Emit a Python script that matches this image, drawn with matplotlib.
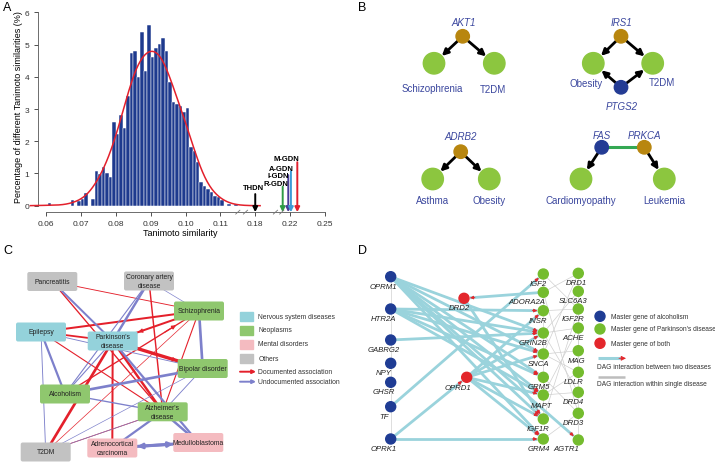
import numpy as np
import matplotlib.pyplot as plt
from matplotlib.patches import Circle, FancyBboxPatch, Rectangle

plt.rcParams['font.family'] = ['Liberation Sans', 'DejaVu Sans']

# ---------------- A: Tanimoto similarity histogram ----------------
main_start = 0.073
main_pct = [0.2, 1.09, 0.98, 1.19, 1.01, 0.9, 2.59, 2.23, 2.8, 2.41, 3.40,
            4.73, 4.81, 4.0, 5.40, 4.19, 5.61, 4.61, 4.89, 5.02, 5.2, 4.81,
            3.83, 3.21, 3.17, 3.09, 2.9, 3.02, 1.81, 1.71, 1.35, 0.73, 0.62,
            0.52, 0.42, 0.29, 0.27, 0.18]
stray_sim = [0.0605, 0.067, 0.069, 0.070, 0.071, 0.112, 0.114]
stray_pct = [0.08, 0.18, 0.15, 0.22, 0.38, 0.05, 0.05]
bin_w = 0.001

net_names = ['THDN', 'R-GDN', 'I-GDN', 'A-GDN', 'M-GDN']
net_sim = [0.18, 0.2115, 0.2179, 0.2207, 0.2262]
net_top = [0.36, 0.59, 0.95, 1.07, 1.35]
net_colors = ['black', '#2E9B45', '#4A3C97', '#3C9BD6', '#E01F2D']
xtick_sim = [0.06, 0.07, 0.08, 0.09, 0.10, 0.11, 0.18, 0.22, 0.25]

# broken axis: similarity -> axis position
break_sim = [0.115, 0.18, 0.22, 0.25]
break_pos = [0.115, 0.12, 0.13, 0.14]


def to_pos(s):
    s = np.asarray(s, dtype=float)
    return np.where(s <= 0.115, s, np.interp(s, break_sim, break_pos))


# ---------------- B: small gene-disease graphs ----------------
b_genes = ['AKT1', 'IRS1', 'PTGS2', 'ADRB2', 'FAS', 'PRKCA']
b_gene_kind = ['gold', 'gold', 'blue', 'gold', 'blue', 'gold']
b_diseases = ['Schizophrenia', 'T2DM', 'Obesity', 'T2DM', 'Asthma', 'Obesity',
              'Cardiomyopathy', 'Leukemia']
b_arrows = [('AKT1', 0), ('AKT1', 1), ('IRS1', 2), ('IRS1', 3), ('PTGS2', 2),
            ('PTGS2', 3), ('ADRB2', 4), ('ADRB2', 5), ('FAS', 6), ('PRKCA', 7)]
b_links = [('FAS', 'PRKCA')]

# ---------------- C: disease network ----------------
c_names = ['Pancreatitis', 'Coronary artery\ndisease', 'Schizophrenia', 'Epilepsy',
           "Parkinson's\ndisease", 'Bipolar disorder', 'Alcoholism',
           "Alzheimer's\ndisease", 'T2DM', 'Adrenocortical\ncarcinoma', 'Medulloblastoma']
c_group = ['Others', 'Others', 'Neoplasms', 'Nervous system diseases',
           'Nervous system diseases', 'Neoplasms', 'Neoplasms', 'Neoplasms',
           'Others', 'Mental disorders', 'Mental disorders']
c_groups = ['Nervous system diseases', 'Neoplasms', 'Mental disorders', 'Others']
# (from, to, documented?, weight)
c_edges = [
    (0, 2, 1, 0.8), (0, 7, 1, 1.2), (1, 7, 1, 1.3), (2, 3, 1, 1.8), (2, 4, 1, 1.8),
    (2, 6, 1, 1.2), (2, 8, 1, 0.6), (2, 7, 1, 1.0), (3, 4, 1, 1.6), (4, 5, 1, 3.0),
    (4, 7, 1, 2.2), (4, 9, 1, 1.8), (4, 8, 1, 2.4), (7, 8, 1, 0.7), (3, 7, 1, 1.0),
    (1, 2, 0, 0.6), (1, 4, 0, 2.2), (1, 6, 0, 1.0), (0, 4, 0, 1.8), (3, 6, 0, 2.0),
    (3, 8, 0, 0.8), (3, 5, 0, 0.8), (4, 6, 0, 1.0), (4, 10, 0, 2.0), (6, 5, 0, 2.4),
    (6, 7, 0, 1.2), (2, 5, 0, 2.4), (5, 7, 0, 0.8), (5, 8, 0, 0.6), (7, 9, 0, 2.0),
    (7, 10, 0, 2.2), (9, 10, 0, 2.8), (7, 8, 0, 0.6),
]

# ---------------- D: master gene DAG ----------------
d_alcohol = ['OPRM1', 'HTR2A', 'GABRG2', 'NPY', 'GHSR', 'TF', 'OPRK1']
d_both = ['DRD2', 'OPRD1']
d_pd_mid = ['IGF2', 'ADORA2A', 'INSR', 'GRIN2B', 'SNCA', 'GRM5', 'MAPT', 'IGF1R', 'GRM4']
d_pd_right = ['DRD1', 'SLC6A3', 'IGF2R', 'ACHE', 'MAG', 'LDLR', 'DRD4', 'DRD3', 'AGTR1']
d_cross = [
    ('OPRM1', 'GRIN2B'), ('OPRM1', 'SNCA'), ('OPRM1', 'MAPT'), ('OPRM1', 'IGF1R'),
    ('OPRM1', 'GRM4'), ('OPRM1', 'AGTR1'), ('OPRM1', 'GRM5'),
    ('HTR2A', 'INSR'), ('HTR2A', 'GRIN2B'), ('HTR2A', 'SNCA'), ('HTR2A', 'GRM5'),
    ('HTR2A', 'MAPT'), ('GABRG2', 'GRIN2B'), ('TF', 'IGF2'), ('OPRK1', 'GRM4'),
    ('OPRK1', 'OPRD1'), ('ADORA2A', 'DRD2'), ('DRD2', 'IGF1R'),
    ('OPRD1', 'INSR'), ('OPRD1', 'GRIN2B'), ('OPRD1', 'SNCA'), ('OPRD1', 'MAPT'),
    ('OPRD1', 'IGF1R'), ('OPRD1', 'GRM4'),
]
d_within = [
    ('OPRM1', 'OPRK1'), ('IGF2', 'IGF2R'), ('IGF2', 'INSR'), ('ADORA2A', 'DRD1'),
    ('ADORA2A', 'DRD3'), ('INSR', 'IGF2R'), ('INSR', 'IGF1R'), ('GRIN2B', 'SLC6A3'),
    ('GRIN2B', 'ACHE'), ('GRIN2B', 'DRD4'), ('SNCA', 'MAG'), ('SNCA', 'LDLR'),
    ('SNCA', 'DRD1'), ('GRM5', 'DRD3'), ('MAPT', 'ACHE'), ('MAPT', 'LDLR'),
    ('MAPT', 'DRD4'), ('IGF1R', 'IGF2R'), ('AGTR1', 'SLC6A3'), ('GRM4', 'DRD3'),
    ('DRD1', 'SLC6A3'), ('MAG', 'IGF2R'),
]

# ---------------- layout (pixels) ----------------
b_gene_xy = {'AKT1': (462.7, 37.3), 'IRS1': (621, 37.3), 'PTGS2': (621, 88.3),
             'ADRB2': (460.7, 152.7), 'FAS': (601.7, 148.3), 'PRKCA': (644.3, 148.3)}
b_gene_lab = {'AKT1': (463.7, 23.3), 'IRS1': (621, 23.3), 'PTGS2': (621.7, 106.7),
              'ADRB2': (460.7, 137.3), 'FAS': (601.7, 135.7), 'PRKCA': (644.3, 135.7)}
b_dis_xy = [(434, 64.3), (494.3, 64.3), (593.3, 64.3), (652.7, 64.3),
            (432.7, 180), (489.3, 180), (581, 180), (664.3, 180)]
b_dis_lab = [(432.7, 89.3), (493.3, 90), (586, 84.3), (661.7, 83.3),
             (432.7, 201), (489.3, 201), (581, 201), (664.3, 201)]
c_xy = [(52.3, 282.5), (149, 282), (199, 312), (41, 333), (112.7, 342), (202.7, 369.5),
        (65, 395), (162.7, 412.8), (45.7, 453), (112.3, 449), (198.3, 443.5)]
d_xy = {}
for n, y in zip(d_alcohol, [277.7, 310, 341, 364.3, 383.3, 407.7, 440]):
    d_xy[n] = (390.7, y)
d_xy['DRD2'] = (464, 299.3)
d_xy['OPRD1'] = (466.7, 378.3)
for n, y in zip(d_pd_mid, [275, 293.3, 311.7, 334, 355, 378.3, 396, 420, 440]):
    d_xy[n] = (543.3, y)
for n, y in zip(d_pd_right, [274.3, 292.3, 310, 329, 351.7, 373.3, 393.3, 414.3, 441]):
    d_xy[n] = (578.3, y)
d_lab_off = {n: (-5, 9.5) for n in d_xy}
d_lab_off.update({n: (-7, 9.5) for n in d_alcohol})
d_lab_off.update({'ADORA2A': (-16, 9), 'GRIN2B': (-10, 10), 'MAPT': (-1.5, 10.5),
                  'AGTR1': (-12, 9), 'OPRD1': (-8.5, 10), 'DRD1': (-2, 9), 'MAG': (-2, 10)})

GOLD, GREEN_B, NAVY, LABC = '#B8860F', '#8CC63F', '#243C94', '#3B479E'
RED_C, BLUE_C = '#E4202B', '#7D80CB'
c_colors = {'Nervous system diseases': '#94D2DB', 'Neoplasms': '#8FC76E',
            'Mental disorders': '#F4BBC0', 'Others': '#C2C2C2'}
D_BLUE, D_GREEN, D_RED, D_CYAN = '#1F3C94', '#74BC2E', '#E3262B', '#9AD3DC'

fig = plt.figure(figsize=(7.15, 4.64), dpi=100)

# overlay axes in pixel units for the network panels
ax = fig.add_axes([0, 0, 1, 1])
ax.set_xlim(0, 715)
ax.set_ylim(464, 0)
ax.axis('off')


def cut(p, q, ra, rb):
    p, q = np.array(p, float), np.array(q, float)
    u = (q - p) / np.hypot(*(q - p))
    return p + u * ra, q - u * rb, u


# ---------------- panel A ----------------
axA = fig.add_axes([30 / 715, (464 - 216) / 464, 305 / 715, 206 / 464])
main_sim = main_start + bin_w * np.arange(len(main_pct))
all_sim = np.concatenate([main_sim, stray_sim])
all_pct = np.concatenate([main_pct, stray_pct])
axA.bar(to_pos(all_sim), all_pct, width=bin_w, align='edge', color='#1E3A8E',
        edgecolor='white', linewidth=0.35, zorder=2)

# smooth density fitted to the histogram (weighted gaussian kernel)
centers = to_pos(all_sim) + bin_w / 2
grid = np.linspace(0.0555, 0.1214, 400)
h = 0.0029
dens = (all_pct[None, :] * np.exp(-0.5 * ((grid[:, None] - centers[None, :]) / h) ** 2)).sum(1)
dens = dens / (h * np.sqrt(2 * np.pi)) * bin_w
axA.plot(grid, dens, color='#E3202C', lw=1.1, zorder=3, clip_on=False)

label_pos = [0.1194, 0.1258, 0.1266, 0.1274, 0.1289]
label_y = [0.55, 0.68, 0.93, 1.16, 1.45]
for name, s, top, col, lx, ly in zip(net_names, net_sim, net_top, net_colors, label_pos, label_y):
    xp = float(to_pos(s))
    axA.annotate('', xy=(xp, -0.2), xytext=(xp, top),
                 arrowprops=dict(arrowstyle='-|>', color=col, lw=1.4, shrinkA=0, shrinkB=0,
                                 mutation_scale=7), annotation_clip=False, zorder=4)
    axA.text(lx, ly, name, fontsize=5.5, fontweight='bold', ha='center', va='center', zorder=5)

axA.set_xlim(0.05538, 0.14288)
axA.set_ylim(-0.289, 6.103)
axA.spines['top'].set_visible(False)
axA.spines['right'].set_visible(False)
axA.spines['left'].set_position(('data', 0.05759))
axA.spines['bottom'].set_position(('data', -0.2))
axA.spines['left'].set_bounds(0, 6)
axA.spines['bottom'].set_bounds(0.06, 0.14)
for sp in ['left', 'bottom']:
    axA.spines[sp].set_linewidth(0.6)
    axA.spines[sp].set_color('#555555')
axA.set_xticks(to_pos(xtick_sim))
axA.set_xticklabels(['%.2f' % v for v in xtick_sim])
axA.set_yticks(range(7))
axA.tick_params(length=3, width=0.6, labelsize=6, pad=3, colors='#333333')
axA.patch.set_alpha(0)
# break marks on the x axis
for xb in [0.1150, 0.1172, 0.1258, 0.1276]:
    axA.plot([xb - 0.0006, xb + 0.0006], [-0.26, -0.14], color='#777777', lw=0.6,
             clip_on=False, zorder=5)
fig.text(18.3 / 715, 1 - 106.7 / 464, 'Percentage of different Tanimoto similarities (%)',
         rotation=90, fontsize=6.5, ha='center', va='center')
fig.text(180.5 / 715, 1 - 234 / 464, 'Tanimoto similarity', fontsize=6.5,
         ha='center', va='center')

# ---------------- panel B ----------------
gene_col = {'gold': GOLD, 'blue': NAVY}
for g, d in b_arrows:
    p0, p1, _ = cut(b_gene_xy[g], b_dis_xy[d], 6.7, 10.7)
    ax.annotate('', xy=p1, xytext=p0,
                arrowprops=dict(arrowstyle='-|>', color='black', lw=2.0, shrinkA=0,
                                shrinkB=0, mutation_scale=9))
for a, b in b_links:
    ax.plot([b_gene_xy[a][0], b_gene_xy[b][0]], [b_gene_xy[a][1], b_gene_xy[b][1]],
            color='#34A853', lw=2.2, zorder=1)
for g, kind in zip(b_genes, b_gene_kind):
    ax.add_patch(Circle(b_gene_xy[g], 6.7, color=gene_col[kind], zorder=3))
    ax.text(*b_gene_lab[g], g, fontsize=7, style='italic', color=LABC,
            ha='center', va='center')
for name, xy, lab in zip(b_diseases, b_dis_xy, b_dis_lab):
    ax.add_patch(Circle(xy, 10.7, color=GREEN_B, zorder=3))
    ax.text(*lab, name, fontsize=7, color=LABC, ha='center', va='center')

# ---------------- panel C ----------------
for a, b, doc, w in c_edges:
    (x0, y0), (x1, y1) = c_xy[a], c_xy[b]
    ax.plot([x0, x1], [y0, y1], color=RED_C if doc else BLUE_C, lw=w * 0.8,
            zorder=1, solid_capstyle='butt')
for a, b in [(2, 4), (6, 2), (4, 5)]:
    p0, p1, _ = cut(c_xy[a], c_xy[b], 0, 27)
    ax.annotate('', xy=p1, xytext=p1 - (p1 - p0) * 0.1,
                arrowprops=dict(arrowstyle='-|>', color=RED_C, lw=0.8, shrinkA=0,
                                shrinkB=0, mutation_scale=6), zorder=1)
p0, p1, _ = cut(c_xy[9], c_xy[10], 25, 25)
ax.annotate('', xy=p1, xytext=p0,
            arrowprops=dict(arrowstyle='<|-|>', color=BLUE_C, lw=2.0, shrinkA=0,
                            shrinkB=0, mutation_scale=7), zorder=1)
for name, grp, (cx, cy) in zip(c_names, c_group, c_xy):
    ax.add_patch(FancyBboxPatch((cx - 25, cy - 9.5), 50, 19,
                                boxstyle='round,pad=0,rounding_size=2',
                                fc=c_colors[grp], ec='none', zorder=3))
    ax.text(cx, cy, name, fontsize=4.9, ha='center', va='center',
            linespacing=1.3, color='#222222', zorder=4)
for i, grp in enumerate(c_groups):
    y = [317.3, 331, 345, 359.3][i]
    ax.add_patch(Rectangle((240, y - 4.5), 13, 9, color=c_colors[grp], zorder=3))
    ax.text(258.3, y, grp, fontsize=4.9, va='center', color='#333333')
ax.annotate('', xy=(256, 372.7), xytext=(240, 372.7),
            arrowprops=dict(arrowstyle='-|>', color=RED_C, lw=1.4, shrinkA=0,
                            shrinkB=0, mutation_scale=5))
ax.annotate('', xy=(256, 382.7), xytext=(240, 382.7),
            arrowprops=dict(arrowstyle='-|>', color=BLUE_C, lw=1.4, shrinkA=0,
                            shrinkB=0, mutation_scale=5))
ax.text(258.3, 372.7, 'Documented association', fontsize=4.9, va='center', color='#333333')
ax.text(258.3, 382.7, 'Undocumented association', fontsize=4.9, va='center', color='#333333')

# ---------------- panel D ----------------
R = 5
for a, b in d_within:
    (x0, y0), (x1, y1) = d_xy[a], d_xy[b]
    ax.plot([x0, x1], [y0, y1], color='#D0D0D0', lw=0.5, zorder=1)
for a, b in d_cross:
    p0, p1, u = cut(d_xy[a], d_xy[b], 0, R + 1)
    ax.plot([p0[0], p1[0]], [p0[1], p1[1]], color=D_CYAN, lw=2.0, zorder=2,
            solid_capstyle='butt')
    ax.annotate('', xy=p1, xytext=p1 - u * 5,
                arrowprops=dict(arrowstyle='-|>', color=D_RED, lw=0.6, shrinkA=0,
                                shrinkB=0, mutation_scale=5), zorder=3)
for names, col in [(d_alcohol, D_BLUE), (d_both, D_RED), (d_pd_mid, D_GREEN),
                   (d_pd_right, D_GREEN)]:
    for n in names:
        x, y = d_xy[n]
        ax.add_patch(Circle((x, y), R, color=col, zorder=4))
        dx, dy = d_lab_off[n]
        ax.text(x + dx, y + dy, n, fontsize=5.6, style='italic', ha='center',
                va='center', color='#222222', zorder=5)
for y, col, txt in [(317.3, D_BLUE, 'Master gene of alcoholism'),
                    (330, D_GREEN, "Master gene of Parkinson's disease"),
                    (344.3, D_RED, 'Master gene of both')]:
    ax.add_patch(Circle((600, y), R, color=col, zorder=4))
    ax.text(610.7, y, txt, fontsize=4.8, va='center', color='#333333')
ax.plot([598, 621], [359.3, 359.3], color=D_CYAN, lw=2.2, solid_capstyle='butt')
ax.annotate('', xy=(626, 359.3), xytext=(619, 359.3),
            arrowprops=dict(arrowstyle='-|>', color=D_RED, lw=0.6, shrinkA=0,
                            shrinkB=0, mutation_scale=7))
ax.text(597.3, 367.7, 'DAG interaction between two diseases', fontsize=4.8,
        va='center', color='#333333')
ax.plot([598, 625], [377.7, 377.7], color='#BDBDBD', lw=1.8, solid_capstyle='butt')
ax.text(597.3, 385, 'DAG interaction within single disease', fontsize=4.8,
        va='center', color='#333333')

# panel letters
for letter, x, y in [('A', 3, 8), ('B', 358, 8), ('C', 3, 251), ('D', 358, 251)]:
    ax.text(x, y, letter, fontsize=9, ha='left', va='center')

fig.savefig('out.png', dpi=100)
